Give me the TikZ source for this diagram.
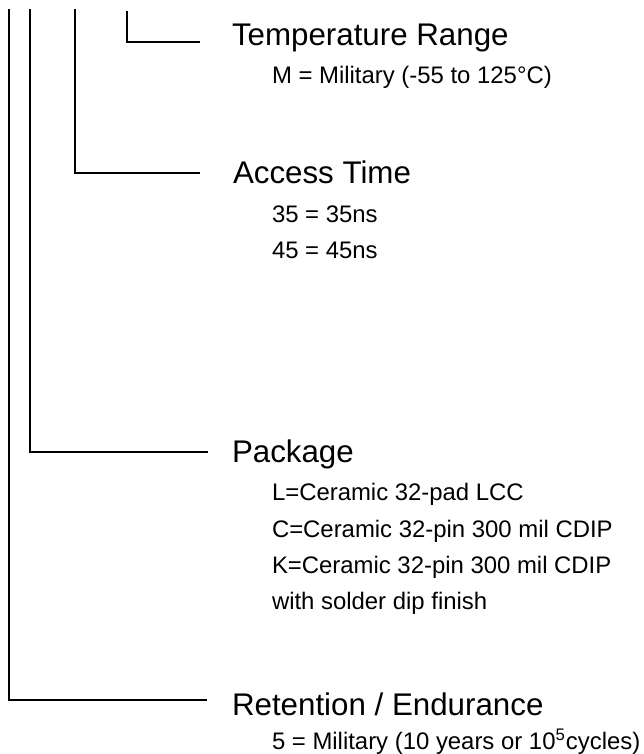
\documentclass[tikz,border=0pt]{standalone}
\usepackage{fontspec}
\setmainfont{Liberation Sans}
\usepackage{tikz}

\begin{document}
\begin{tikzpicture}[x=0.5pt,y=-0.5pt,line width=1pt,
    head/.style={anchor=base west, inner sep=0pt, font=\fontsize{15.65}{18}\selectfont},
    item/.style={anchor=base west, inner sep=0pt, font=\fontsize{11.95}{14}\selectfont}]
                        \useasboundingbox (0,0) rectangle (643,754);

                        % Nodes
                        \node[head] (temp) at (231,46) {Temperature Range};
                        \node[item] (tempM) at (271,84) {M = Military (-55 to 125°C)};

                        \node[head] (access) at (232,184) {Access Time};
                        \node[item] (access35) at (271,222) {35 = 35ns};
                        \node[item] (access45) at (271,258) {45 = 45ns};

                        \node[head] (pkg) at (231,462) {Package};
                        \node[item] (pkgL) at (271,500) {L=Ceramic 32-pad LCC};
                        \node[item] (pkgC) at (271,537) {C=Ceramic 32-pin 300 mil CDIP};
                        \node[item] (pkgK) at (271,573) {K=Ceramic 32-pin 300 mil CDIP};
                        \node[item] (pkgW) at (271,609) {with solder dip finish};

                        \node[head] (ret) at (231,715) {Retention / Endurance};
                        \node[item] (ret5) at (271,749) {5 = Military (10 years or 10\textsuperscript{5}cycles)};

                        % Line ends
                        \coordinate (temp0) at (127,11);
                        \coordinate (temp1) at (200,42);
                        \coordinate (access0) at (75,9);
                        \coordinate (access1) at (200,173);
                        \coordinate (pkg0) at (30,9);
                        \coordinate (pkg1) at (208,452);
                        \coordinate (ret0) at (9,9);
                        \coordinate (ret1) at (207,700);

                        % Edges
                        \draw[-] (temp0) |- (temp1);
                        \draw[-] (access0) |- (access1);
                        \draw[-] (pkg0) |- (pkg1);
                        \draw[-] (ret0) |- (ret1);
                    \end{tikzpicture}
\end{document}
